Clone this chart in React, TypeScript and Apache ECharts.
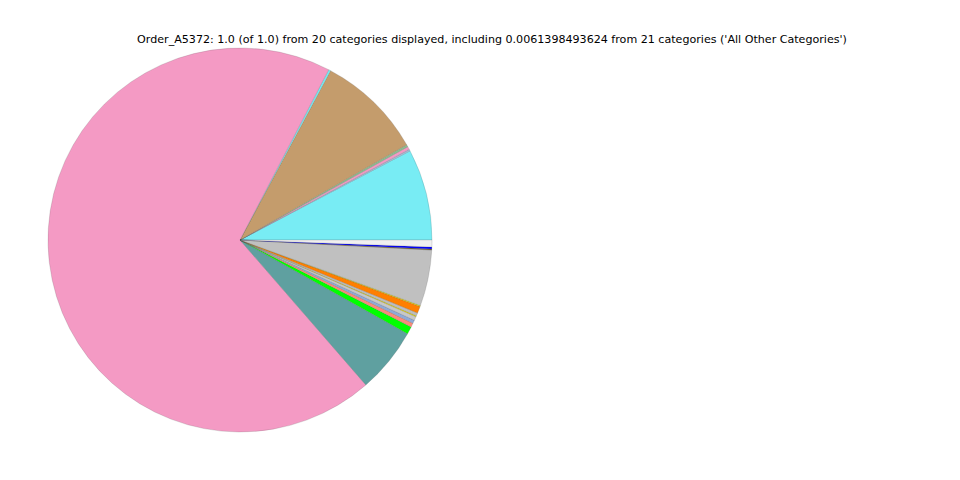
import React, { useEffect, useRef } from "react";
import * as echarts from "echarts";

const TITLE =
  "Order_A5372: 1.0 (of 1.0) from 20 categories displayed, including 0.0061398493624 from 21 categories ('All Other Categories')";

const categories = [
  "Cat 1", "Cat 2", "Cat 3", "Cat 4", "Cat 5", "Cat 6", "Cat 7", "Cat 8", "Cat 9", "Cat 10",
  "Cat 11", "Cat 12", "Cat 13", "Cat 14", "Cat 15", "Cat 16", "Cat 17", "Cat 18", "Cat 19",
  "All Other Categories",
];

const values = [
  0.0769, 0.0014, 0.0025, 0.0019, 0.0892, 0.0017, 0.6905, 0.055, 0.0064, 0.0033,
  0.0028, 0.0033, 0.0008, 0.0025, 0.0058, 0.0008, 0.0472, 0.0008, 0.0017, 0.0058,
];

const colors = [
  "#78ECF4", "#A9BCD8", "#F49AC4", "#8FBC8F", "#C49C6C", "#78ECF4", "#F49AC4", "#5FA0A0",
  "#00FF00", "#FA8C78", "#8FAAD8", "#C8C8C8", "#F0E000", "#BEBEBE", "#FF7F00", "#F0E000",
  "#C0C0C0", "#6B5A1E", "#0000FF", "#F0F0F0",
];

export default function App() {
  const ref = useRef<HTMLDivElement>(null);
  useEffect(() => {
    if (!ref.current) return;
    const chart = echarts.init(ref.current, null, { renderer: "svg" });
    chart.setOption({
      animation: false,
      backgroundColor: "#ffffff",
      graphic: [
        {
          type: "text",
          x: 492,
          y: 39,
          style: {
            text: TITLE,
            fontFamily: "DejaVu Sans",
            fontSize: 11.1,
            fill: "#000",
            textAlign: "center",
            textVerticalAlign: "middle",
          },
        },
      ],
      series: [
        {
          type: "pie",
          center: [240, 240],
          radius: [0, 192],
          startAngle: 0,
          clockwise: false,
          minAngle: 0,
          avoidLabelOverlap: false,
          label: { show: false },
          labelLine: { show: false },
          emphasis: { disabled: true },
          itemStyle: { borderColor: "rgba(80,80,80,0.45)", borderWidth: 0.4 },
          data: categories.map((name, i) => ({
            name,
            value: values[i],
            itemStyle: { color: colors[i] },
          })),
        },
      ],
    });
    return () => chart.dispose();
  }, []);
  return (
    <div
      ref={ref}
      style={{ position: "fixed", left: 0, top: 0, width: 960, height: 480 }}
    />
  );
}
